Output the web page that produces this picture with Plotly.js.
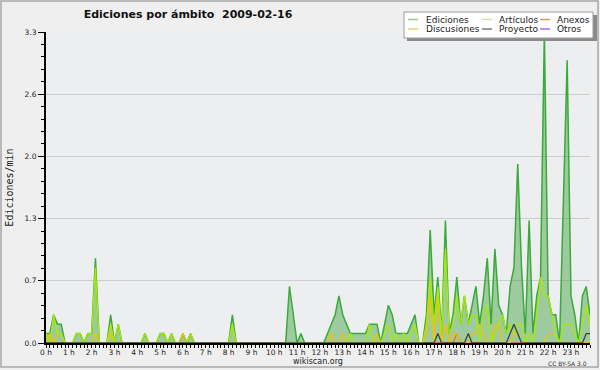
<!DOCTYPE html>
<html><head><meta charset="utf-8">
<script src="https://cdn.plot.ly/plotly-3.0.1.min.js"></script>
<style>html,body{margin:0;padding:0;background:#efefef;}#chart{width:600px;height:370px;}</style>
</head><body><div id="chart"></div>
<script>
// 10-minute slots, 6 per hour, values in edits/min
const ediciones = [
 0.1,0.1,0.3,0.2,0.2,0,
 0,0,0.1,0.1,0,0.1,
 0.1,0.9,0,0,0,0.3,
 0,0.2,0,0,0,0,
 0,0,0.1,0,0,0,
 0.1,0.1,0,0.1,0,0,
 0.1,0,0.1,0,0,0,
 0,0,0,0,0,0,
 0,0.3,0,0,0,0,
 0,0,0,0,0,0,
 0,0,0,0,0.6,0.3,
 0,0.1,0,0,0,0,
 0,0,0.1,0.2,0.3,0.5,
 0.3,0.2,0.1,0.1,0.1,0.1,
 0.1,0.2,0.2,0.2,0,0.2,
 0.4,0.3,0.1,0.1,0.1,0.1,
 0.2,0.3,0,0,0.3,1.2,
 0.3,0.7,0.1,1.3,0.1,0.3,
 0.7,0.2,0.5,0.2,0.4,0.6,
 0.2,0.5,0.9,0.2,1.0,0.4,
 0.3,0.1,0.6,0.8,1.9,0.8,
 0.1,1.3,0.1,0.5,0.7,3.3,
 0.5,0.3,0.3,0,1.5,3.0,
 0.5,0.3,0,0.5,0.6,0.3];
const articulos = [
 0.1,0,0.3,0.1,0.1,0,
 0,0,0.1,0.1,0,0.1,
 0.1,0.8,0,0,0,0.2,
 0,0.2,0,0,0,0,
 0,0,0.1,0,0,0,
 0.1,0.1,0,0.1,0,0,
 0,0,0.1,0,0,0,
 0,0,0,0,0,0,
 0,0.2,0,0,0,0,
 0,0,0,0,0,0,
 0,0,0,0,0,0,
 0,0,0,0,0,0,
 0,0,0,0,0,0,
 0,0,0.1,0,0,0,
 0,0.2,0,0,0,0.1,
 0.2,0,0.1,0,0.1,0,
 0.1,0.2,0,0,0.2,0.7,
 0.2,0.6,0.1,1.0,0.1,0.2,
 0.5,0.2,0.5,0.2,0.3,0.3,
 0,0.3,0.4,0,0.1,0.2,
 0.3,0.1,0.2,0.1,0.2,0.2,
 0,0.1,0,0.3,0.7,0.5,
 0.5,0.3,0.1,0,0.2,0.2,
 0.2,0.1,0,0.2,0.4,0.2];
const discusiones = [
 0,0.1,0,0.1,0.1,0,
 0,0,0,0,0,0,
 0,0.1,0,0,0,0.1,
 0,0,0,0,0,0,
 0,0,0,0,0,0,
 0,0,0,0,0,0,
 0.1,0,0,0,0,0,
 0,0,0,0,0,0,
 0,0,0,0,0,0,
 0,0,0,0,0,0,
 0,0,0,0,0,0,
 0,0,0,0,0,0,
 0,0,0,0.1,0,0,
 0.1,0,0,0,0,0,
 0,0,0,0.1,0,0,
 0,0,0,0,0,0,
 0,0,0,0,0.1,0.5,
 0,0.5,0,0.2,0,0.1,
 0.1,0,0,0,0.1,0.1,
 0.2,0.1,0,0,0.2,0.2,
 0,0,0,0.1,0.1,0,
 0,0,0,0,0,0,
 0.1,0.1,0.1,0,0,0,
 0,0,0,0,0,0];
const anexos = [
 0,0,0,0,0,0, 0,0,0,0,0,0, 0,0,0,0,0,0, 0,0,0,0,0,0,
 0,0,0,0,0,0, 0,0,0,0,0,0, 0,0,0,0,0,0, 0,0,0,0,0,0,
 0,0,0,0,0,0, 0,0,0,0,0,0, 0,0,0,0,0,0, 0,0,0,0,0,0,
 0,0,0,0,0,0, 0,0,0,0,0,0, 0,0,0,0,0,0, 0,0,0,0,0,0,
 0,0,0,0,0,0, 0,0,0,0,0,0, 0.1,0,0,0,0,0, 0,0,0,0,0,0,
 0,0,0,0,0,0, 0,0,0,0,0,0, 0,0,0,0,0,0, 0,0,0,0,0,0];
const proyecto = [
 0,0,0,0,0,0, 0,0,0,0,0,0, 0,0,0,0,0,0, 0,0,0,0,0,0,
 0,0,0,0,0,0, 0,0,0,0,0,0, 0,0,0,0,0,0, 0,0,0,0,0,0,
 0,0,0,0,0,0, 0,0,0,0,0,0, 0,0,0,0,0,0, 0,0,0,0,0,0,
 0,0,0,0,0,0, 0,0,0,0,0,0, 0,0,0,0,0,0, 0,0,0,0,0,0,
 0,0,0,0,0,0, 0,0.1,0,0,0,0, 0,0,0,0.1,0,0, 0,0,0,0,0,0,
 0,0,0.1,0.2,0.1,0, 0,0,0,0,0,0, 0,0,0,0,0,0, 0,0,0,0,0.1,0.1];
const otros = [
 0,0,0,0,0,0, 0,0,0,0,0,0, 0,0,0,0,0,0, 0,0,0,0,0,0,
 0,0,0,0,0,0, 0,0,0,0,0,0, 0,0,0,0,0,0, 0,0,0,0,0,0,
 0,0,0,0,0,0, 0,0,0,0,0,0, 0,0,0,0,0,0, 0,0,0,0,0,0,
 0,0,0,0,0,0, 0,0,0,0,0,0, 0,0,0,0,0,0, 0,0,0,0,0,0,
 0,0,0,0,0,0, 0,0,0,0,0,0, 0,0,0,0,0,0, 0,0,0,0,0,0,
 0,0,0,0,0,0, 0,0,0,0,0,0, 0,0,0,0,0,0, 0,0,0,0,0,0];

const yTickVals = [0, 0.66, 1.32, 1.98, 2.64, 3.3];
const yTickText = ['0.0','0.7','1.3','2.0','2.6','3.3'];
const legendRow1 = ['Ediciones','Artículos','Anexos'];
const legendRow2 = ['Discusiones','Proyecto','Otros'];

const hours = ediciones.map((_, i) => i / 6);

const series = [
  {name:'Otros', y:otros, color:'#8a3ee8'},
  {name:'Anexos', y:anexos, color:'#e8702a'},
  {name:'Discusiones', y:discusiones, color:'#f2c200'},
  {name:'Artículos', y:articulos, color:'#a8ea00'},
  {name:'Proyecto', y:proyecto, color:'#404040'}
];

const traces = [{
  x: hours, y: ediciones, name: 'Ediciones', type: 'scatter', mode: 'lines',
  line: {color: '#3aaa3a', width: 1.5}, fill: 'tozeroy', fillcolor: 'rgba(60,160,60,0.45)'
}].concat(series.map(s => ({
  x: hours, y: s.y, name: s.name, type: 'scatter', mode: 'lines',
  line: {color: s.color, width: 1.3}
})));

// plot-area pixel box
const L = 46, R = 590, T = 32, B = 343;
const px = x => (x - L) / (R - L);
const py = y => (B - y) / (B - T);

const legendColors1 = ['#88cc88', '#ccee66', '#ee8844'];
const legendColors2 = ['#eecc44', '#666666', '#9955dd'];
const colLine = [408, 482, 540];
const colText = [424, 497, 555];
const rowY = [19.5, 29];

const shapes = [
  {type:'rect', xref:'paper', yref:'paper', x0:px(1), x1:px(598), y0:py(1), y1:py(367),
   line:{color:'#a8a8a8', width:1.5}, fillcolor:'rgba(0,0,0,0)', layer:'below'},
  {type:'rect', xref:'paper', yref:'paper', x0:px(407), x1:px(597), y0:py(15), y1:py(41),
   line:{width:0}, fillcolor:'#8a8a8a', layer:'above'},
  {type:'rect', xref:'paper', yref:'paper', x0:px(404), x1:px(593), y0:py(12), y1:py(38),
   line:{color:'#9a9a9a', width:1}, fillcolor:'#ffffff', layer:'above'}
];
const annotations = [];
[[legendRow1, legendColors1], [legendRow2, legendColors2]].forEach(([names, cols], r) => {
  names.forEach((n, c) => {
    shapes.push({type:'line', xref:'paper', yref:'paper', x0:px(colLine[c]), x1:px(colLine[c] + 10),
      y0:py(rowY[r]), y1:py(rowY[r]), line:{color:cols[c], width:1.3}, layer:'above'});
    annotations.push({xref:'paper', yref:'paper', x:px(colText[c]), y:py(rowY[r]), xanchor:'left', yanchor:'middle',
      text:n, showarrow:false, font:{family:'DejaVu Sans', size:9, color:'#222'}});
  });
});
annotations.push({xref:'paper', yref:'paper', x:px(589), y:py(363), xanchor:'right', yanchor:'middle',
  text:'CC BY-SA 3.0', showarrow:false, font:{family:'DejaVu Sans', size:6, color:'#333'}});

const layout = {
  width: 600, height: 370,
  paper_bgcolor: '#efefef', plot_bgcolor: '#edeef0',
  margin: {l: L, r: 600 - R, t: T, b: 370 - B, pad: 0},
  showlegend: false,
  title: {text: 'Ediciones por ámbito  2009-02-16', x: 188/600, xref: 'container', xanchor: 'center',
          y: 1 - 14/370, yref: 'container', yanchor: 'middle',
          font: {family: 'DejaVu Sans', size: 11, weight: 'bold', color: '#111'}},
  xaxis: {
    range: [0, 143/6], tickmode: 'linear', tick0: 0, dtick: 1, ticksuffix: ' h', tickformat: 'd',
    ticks: 'outside', ticklen: 3, tickwidth: 1, tickcolor: '#000', ticklabelstandoff: -2,
    showline: true, linecolor: '#000', linewidth: 2, showgrid: false, zeroline: false,
    tickfont: {family: 'DejaVu Sans', size: 7.5, color: '#222'},
    minor: {tickmode: 'linear', tick0: 0, dtick: 1/6, ticks: 'outside', ticklen: 3, tickcolor: '#000', tickwidth: 1, showgrid: false},
    title: {text: 'wikiscan.org', standoff: 1, font: {family: 'DejaVu Sans', size: 8, color: '#222'}},
    fixedrange: true
  },
  yaxis: {
    range: [0, 3.3], tickmode: 'array', tickvals: yTickVals, ticktext: yTickText,
    ticks: 'outside', ticklen: 6, tickwidth: 1, tickcolor: '#000',
    showline: true, linecolor: '#000', linewidth: 2, showgrid: true, gridcolor: '#cdcdcd', gridwidth: 1, zeroline: false,
    tickfont: {family: 'DejaVu Sans', size: 7.5, color: '#222'},
    minor: {tickmode: 'linear', tick0: 0, dtick: 0.132, ticks: 'outside', ticklen: 3, tickcolor: '#000', tickwidth: 1, showgrid: false},
    title: {text: 'Ediciones/min', standoff: 9, font: {family: 'DejaVu Sans Mono', size: 10, color: '#222'}},
    fixedrange: true
  },
  shapes: shapes,
  annotations: annotations
};

Plotly.newPlot('chart', traces, layout, {displayModeBar: false, staticPlot: true});
</script></body></html>
